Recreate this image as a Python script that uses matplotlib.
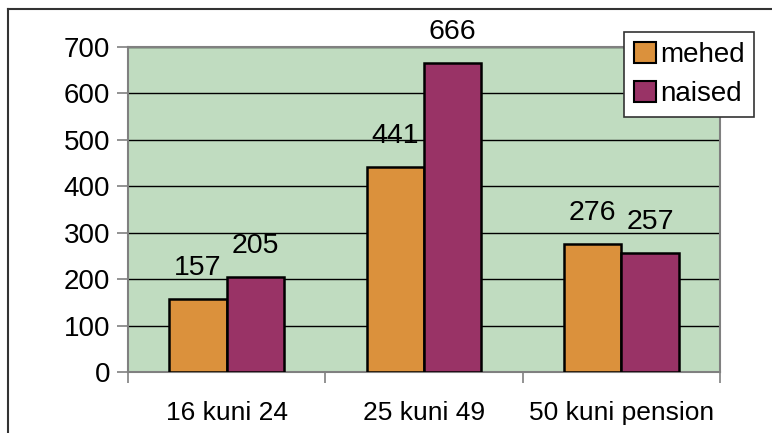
import matplotlib.pyplot as plt
import numpy as np
from matplotlib.patches import Patch
from matplotlib.lines import Line2D

plt.rcParams['font.family'] = ['Liberation Sans', 'DejaVu Sans']

# Data
categories = ["16 kuni 24", "25 kuni 49", "50 kuni pension"]
mehed = [157, 441, 276]
naised = [205, 666, 257]
series_names = ["mehed", "naised"]
yticks = [0, 100, 200, 300, 400, 500, 600, 700]

col_m = "#DB913C"
col_n = "#993366"
bg = "#C0DCC0"

W, H = 772, 433
fig = plt.figure(figsize=(W / 100, H / 100), dpi=100)
ax = fig.add_axes([128 / W, 1 - 372 / H, (720 - 128) / W, (372 - 47) / H])
ax.set_facecolor(bg)

x = np.arange(len(categories))
bw = 0.29
ax.bar(x - bw / 2, mehed, bw, color=col_m, edgecolor="black", linewidth=1.8, zorder=3)
ax.bar(x + bw / 2, naised, bw, color=col_n, edgecolor="black", linewidth=1.8, zorder=3)

# value labels above the bars
for xi, v in zip(x - bw / 2, mehed):
    ax.annotate(str(v), (xi, v), xytext=(0, 13), textcoords="offset points",
                ha="center", va="bottom", fontsize=20.5, zorder=4)
for xi, v in zip(x + bw / 2, naised):
    ax.annotate(str(v), (xi, v), xytext=(0, 13), textcoords="offset points",
                ha="center", va="bottom", fontsize=20.5, zorder=4)

ax.set_xlim(-0.5, 2.5)
ax.set_ylim(0, 700)
ax.set_yticks(yticks)
ax.set_yticklabels([str(t) for t in yticks], fontsize=20)
ax.yaxis.grid(True, color="black", linewidth=1.0, zorder=1)
ax.set_axisbelow(True)

ax.set_xticks(x)
ax.set_xticklabels(categories, fontsize=19)
ax.set_xticks([-0.5, 0.5, 1.5, 2.5], minor=True)
ax.tick_params(axis="x", which="major", length=0, pad=21)
ax.tick_params(axis="x", which="minor", length=8, color="#808080", width=1.2)
ax.tick_params(axis="y", length=8, color="#808080", width=1.2, pad=5)

for s in ax.spines.values():
    s.set_color("#808080")
    s.set_linewidth(1.5)

handles = [Patch(facecolor=col_m, edgecolor="black", linewidth=1.5),
           Patch(facecolor=col_n, edgecolor="black", linewidth=1.5)]
leg = fig.legend(handles, series_names, loc="upper left",
                 bbox_to_anchor=(624 / W, 1 - 32 / H), borderaxespad=0, fontsize=20,
                 handlelength=0.8, handleheight=0.8, handletextpad=0.15,
                 labelspacing=0.45, borderpad=0.35, fancybox=False, framealpha=1)
leg.get_frame().set_edgecolor("#333333")
leg.get_frame().set_linewidth(1.2)

# outer chart frame (left and top edges visible)
fig.add_artist(Line2D([8 / W, 8 / W], [0, 1 - 9 / H], transform=fig.transFigure,
                      color="#333333", linewidth=1.5))
fig.add_artist(Line2D([8 / W, 1], [1 - 9 / H, 1 - 9 / H], transform=fig.transFigure,
                      color="#333333", linewidth=1.5))

fig.savefig("out.png", dpi=100)
